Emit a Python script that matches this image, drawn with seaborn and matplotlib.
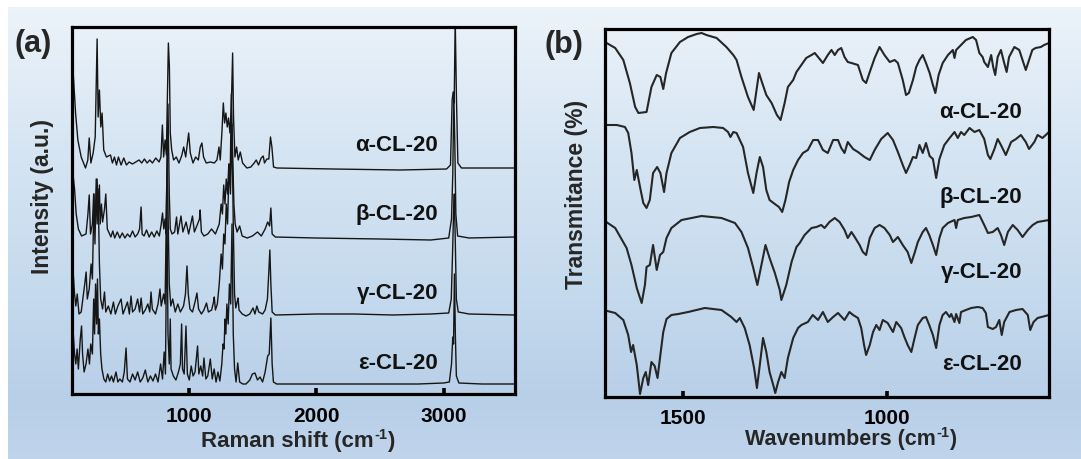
import numpy as np
import pandas as pd
import matplotlib
matplotlib.use("Agg")
import matplotlib.pyplot as plt
import seaborn as sns

sns.set_theme(style="white")
plt.rcParams['font.family'] = ['Liberation Sans', 'DejaVu Sans']
plt.rcParams['font.weight'] = 'bold'

# ---------------- data: Raman spectra (Raman shift cm-1, intensity a.u.) ----------------
RAMAN_ALPHA = [(86,330),(94,322),(113,281),(131,254),(157,237),(191,226),(209,234),(220,256),(233,231),(251,241),(267,257),(282,355),(290,277),(300,304),(311,267),(321,281),(334,244),(355,237),(387,239),(402,231),(418,237),(434,229),(449,237),(470,229),(491,236),(512,229),(533,232),(559,230),(585,232),(611,234),(632,231),(653,235),(674,231),(695,234),(716,231),(742,236),(768,232),(783,237),(794,269),(804,237),(815,254),(825,239),(841,351),(849,327),(856,261),(867,244),(882,234),(903,237),(924,231),(945,238),(961,247),(977,237),(1000,261),(1013,241),(1034,231),(1055,237),(1076,234),(1091,247),(1104,251),(1117,237),(1138,231),(1170,232),(1201,231),(1222,234),(1238,247),(1248,234),(1261,262),(1272,291),(1282,271),(1292,281),(1303,267),(1313,276),(1324,261),(1334,284),(1345,341),(1352,277),(1363,237),(1376,247),(1389,234),(1405,242),(1423,231),(1457,226),(1488,227),(1514,231),(1530,234),(1548,229),(1569,236),(1585,238),(1595,231),(1613,235),(1629,235),(1642,257),(1653,247),(1666,227),(1692,226),(2135,225),(2657,224),(3023,225),(3054,229),(3067,294),(3075,302),(3083,291),(3091,375),(3101,294),(3112,231),(3140,226),(3558,226)]
RAMAN_BETA = [(86,228),(105,205),(118,180),(135,165),(160,158),(195,160),(210,180),(220,199),(230,160),(245,170),(255,200),(262,165),(272,190),(282,215),(290,175),(300,209),(306,170),(316,190),(325,172),(340,185),(350,200),(362,165),(380,160),(390,157),(405,163),(420,156),(440,162),(460,156),(480,161),(500,156),(520,160),(540,157),(560,163),(580,157),(600,160),(615,165),(627,187),(635,160),(650,158),(670,164),(690,157),(710,162),(730,157),(750,163),(770,158),(785,170),(795,181),(805,165),(815,175),(822,160),(838,290),(848,200),(856,165),(870,160),(890,162),(905,177),(915,160),(940,178),(955,162),(980,172),(1000,160),(1030,178),(1045,162),(1070,170),(1085,175),(1090,184),(1100,162),(1120,158),(1150,160),(1180,165),(1210,160),(1240,170),(1255,190),(1265,180),(1275,209),(1285,190),(1295,215),(1305,200),(1315,230),(1325,210),(1335,300),(1345,240),(1355,190),(1365,170),(1380,162),(1400,168),(1420,158),(1460,156),(1500,158),(1540,162),(1570,158),(1600,165),(1620,172),(1635,168),(1645,186),(1655,160),(1680,157),(2000,156),(2500,155),(2900,154),(3040,156),(3062,175),(3072,220),(3080,300),(3088,250),(3096,180),(3110,158),(3200,156),(3558,157)]
RAMAN_GAMMA = [(86,146),(95,120),(105,100),(115,88),(126,100),(140,80),(157,82),(170,95),(185,110),(196,122),(205,95),(220,105),(235,130),(245,115),(258,200),(265,150),(275,215),(282,170),(290,205),(300,130),(310,95),(325,85),(340,102),(350,82),(370,88),(390,80),(410,92),(425,80),(445,88),(470,95),(485,80),(500,85),(520,92),(535,80),(548,98),(560,82),(580,85),(600,95),(615,82),(627,96),(640,80),(660,84),(680,90),(695,82),(705,102),(715,85),(740,80),(760,90),(775,105),(785,88),(804,100),(815,90),(832,240),(840,170),(848,110),(860,88),(875,95),(895,82),(915,90),(935,82),(960,88),(975,100),(987,128),(997,100),(1010,85),(1030,82),(1050,92),(1065,101),(1078,85),(1100,80),(1120,84),(1140,91),(1155,82),(1180,84),(1195,92),(1201,97),(1210,84),(1225,90),(1240,110),(1255,140),(1265,125),(1275,160),(1285,150),(1295,190),(1305,170),(1318,230),(1328,200),(1340,270),(1350,170),(1360,100),(1370,86),(1380,92),(1388,96),(1395,84),(1420,80),(1450,78),(1480,80),(1505,86),(1520,80),(1535,88),(1550,82),(1580,80),(1600,84),(1618,95),(1628,120),(1637,144),(1645,110),(1655,82),(1680,79),(2000,80),(2300,80),(2600,79),(2900,80),(3040,81),(3060,95),(3070,140),(3078,180),(3084,200),(3092,150),(3100,95),(3115,82),(3200,80),(3558,79)]
RAMAN_EPSILON = [(86,78),(95,60),(105,40),(115,30),(125,45),(135,25),(150,55),(160,68),(168,40),(180,22),(195,30),(210,45),(222,30),(232,50),(245,40),(255,95),(262,60),(270,110),(278,70),(285,115),(292,60),(300,75),(310,40),(320,25),(335,15),(350,12),(365,20),(380,13),(395,18),(410,12),(430,22),(445,12),(460,15),(480,12),(495,22),(509,46),(520,15),(540,12),(560,20),(580,14),(600,22),(620,12),(640,16),(660,24),(680,12),(700,18),(720,13),(740,20),(760,12),(780,30),(795,15),(808,42),(818,20),(830,190),(838,60),(848,30),(856,75),(862,25),(880,18),(900,14),(920,22),(935,30),(945,70),(952,25),(965,20),(979,68),(990,20),(1005,14),(1020,28),(1035,18),(1050,22),(1070,48),(1080,20),(1095,28),(1110,18),(1120,36),(1135,15),(1150,18),(1170,35),(1185,15),(1200,25),(1215,12),(1230,22),(1245,13),(1260,30),(1270,50),(1278,45),(1285,75),(1292,60),(1300,90),(1310,70),(1320,110),(1330,90),(1340,170),(1350,60),(1360,25),(1372,12),(1385,31),(1400,12),(1425,10),(1450,10),(1480,14),(1500,20),(1520,21),(1540,14),(1560,17),(1580,12),(1600,22),(1620,38),(1632,40),(1645,76),(1655,30),(1665,12),(1690,10),(2000,10),(2400,10),(2800,10),(3000,11),(3045,12),(3062,30),(3072,57),(3078,50),(3085,120),(3092,60),(3100,18),(3120,11),(3300,10),(3558,10)]

# ---------------- data: IR spectra (wavenumber cm-1, transmittance) ----------------
IR_ALPHA = [(1692,354),(1688,354),(1667,349),(1647,337),(1631,314),(1618,290),(1610,284),(1590,285),(1578,310),(1565,322),(1556,320),(1549,308),(1542,324),(1529,344),(1508,355),(1488,360),(1467,363),(1455,364),(1443,362),(1418,359),(1394,350),(1377,342),(1369,337),(1357,320),(1341,300),(1327,287),(1320,307),(1314,324),(1306,314),(1296,302),(1283,294),(1270,282),(1261,277),(1251,294),(1243,310),(1230,317),(1222,325),(1210,332),(1198,339),(1185,342),(1177,344),(1167,339),(1157,334),(1145,342),(1136,347),(1128,342),(1120,347),(1112,349),(1104,340),(1096,335),(1087,334),(1071,332),(1059,317),(1051,314),(1042,325),(1030,339),(1018,350),(1006,342),(993,335),(981,337),(973,334),(961,317),(953,302),(946,304),(936,317),(928,330),(920,337),(912,342),(904,334),(895,324),(887,312),(881,304),(873,322),(863,334),(850,342),(838,347),(834,339),(830,347),(818,352),(806,357),(789,360),(781,357),(773,344),(765,340),(761,335),(752,330),(744,342),(739,330),(734,322),(728,340),(720,347),(712,334),(706,325),(700,340),(687,350),(675,347),(667,337),(659,327),(651,337),(643,347),(635,349),(622,350),(614,352),(602,354)]
IR_BETA = [(1692,272),(1663,272),(1643,270),(1635,264),(1627,244),(1620,217),(1614,227),(1606,210),(1598,194),(1590,189),(1582,197),(1574,224),(1564,230),(1556,224),(1547,205),(1541,224),(1529,244),(1508,259),(1484,265),(1459,269),(1426,270),(1402,269),(1390,265),(1384,260),(1377,265),(1369,264),(1353,250),(1341,224),(1328,204),(1320,224),(1312,240),(1304,230),(1296,207),(1288,197),(1275,193),(1265,190),(1257,185),(1249,197),(1240,215),(1230,227),(1218,237),(1206,244),(1194,247),(1181,257),(1169,257),(1157,247),(1145,244),(1132,257),(1120,257),(1112,249),(1104,244),(1096,255),(1083,248),(1071,245),(1055,240),(1042,237),(1030,247),(1014,258),(998,264),(985,257),(973,245),(961,232),(953,224),(944,232),(936,240),(928,239),(920,252),(912,244),(904,254),(895,241),(887,238),(879,219),(871,238),(859,252),(846,259),(834,265),(826,259),(818,265),(810,262),(797,269),(785,265),(773,267),(761,258),(752,242),(746,238),(736,248),(728,258),(720,252),(708,242),(695,255),(683,258),(671,262),(659,255),(651,248),(638,255),(630,262),(618,259),(602,265)]
IR_GAMMA = [(1696,177),(1667,169),(1639,149),(1627,132),(1614,109),(1602,94),(1594,112),(1590,130),(1582,132),(1574,152),(1565,127),(1557,142),(1549,145),(1541,159),(1529,169),(1504,177),(1455,181),(1406,179),(1373,174),(1357,165),(1341,149),(1328,129),(1318,112),(1308,132),(1298,152),(1288,139),(1275,124),(1263,107),(1259,97),(1247,112),(1234,135),(1222,150),(1214,154),(1202,162),(1185,169),(1173,170),(1161,172),(1153,169),(1141,175),(1128,179),(1116,175),(1104,167),(1096,159),(1087,165),(1079,160),(1067,152),(1059,145),(1051,142),(1042,159),(1030,169),(1018,172),(1006,169),(993,162),(985,155),(973,160),(961,152),(949,145),(940,134),(932,144),(924,155),(912,165),(904,169),(896,162),(887,152),(879,142),(871,159),(863,169),(850,174),(834,177),(830,169),(826,177),(810,179),(793,180),(773,182),(761,172),(752,164),(740,165),(728,169),(720,162),(712,152),(703,165),(691,172),(679,167),(667,160),(654,167),(642,172),(630,175),(602,177)]
IR_EPSILON = [(1696,87),(1667,84),(1647,77),(1635,62),(1628,45),(1623,52),(1614,32),(1606,3),(1598,19),(1592,25),(1586,12),(1578,35),(1570,31),(1563,19),(1557,39),(1549,65),(1541,78),(1529,82),(1512,83),(1488,85),(1447,89),(1406,87),(1382,80),(1369,75),(1361,79),(1349,69),(1337,52),(1326,29),(1319,9),(1312,32),(1304,59),(1296,45),(1288,25),(1279,12),(1274,4),(1267,15),(1259,25),(1251,19),(1243,39),(1230,59),(1218,69),(1210,72),(1194,75),(1182,82),(1169,77),(1157,85),(1145,75),(1132,80),(1120,84),(1104,77),(1092,85),(1083,82),(1071,79),(1063,69),(1056,52),(1051,42),(1042,52),(1034,65),(1026,72),(1018,67),(1010,77),(998,74),(985,65),(977,75),(965,69),(957,60),(949,52),(940,45),(932,59),(924,72),(912,79),(904,80),(896,72),(887,62),(879,49),(871,72),(863,82),(855,85),(846,80),(842,83),(834,75),(830,83),(822,74),(818,85),(806,87),(793,89),(777,90),(765,89),(757,84),(752,70),(740,68),(732,70),(724,77),(718,62),(712,75),(699,85),(683,87),(667,88),(654,82),(648,67),(640,75),(630,79),(602,82)]

RAMAN_SERIES = [("α-CL-20", RAMAN_ALPHA), ("β-CL-20", RAMAN_BETA), ("γ-CL-20", RAMAN_GAMMA), ("ε-CL-20", RAMAN_EPSILON)]
IR_SERIES = [("α-CL-20", IR_ALPHA), ("β-CL-20", IR_BETA), ("γ-CL-20", IR_GAMMA), ("ε-CL-20", IR_EPSILON)]
RAMAN_TICKS = [1000, 2000, 3000]
IR_TICKS = [1500, 1000]

# ---------------- figure ----------------
W, H = 1081, 459
fig = plt.figure(figsize=(W / 100, H / 100), dpi=100)

# background gradient (decoration)
bg = fig.add_axes([0, 0, 1, 1], zorder=-10)
ys = np.arange(H)
stop_y = [0, 7, 150, 300, 400, 459]
stop_c = np.array([[236, 243, 250], [236, 243, 250], [214, 229, 243], [196, 217, 237], [184, 207, 232], [192, 213, 236]]) / 255.0
col = np.stack([np.interp(ys, stop_y, stop_c[:, k]) for k in range(3)], axis=1)
img = np.repeat(col[:, None, :], W, axis=1)
img[:7, :, :] = 1.0
img[:, :8, :] = 1.0
bg.imshow(img, aspect='auto', interpolation='bilinear')
bg.axis('off')

axA = fig.add_axes([72 / W, 1 - 394 / H, 443 / W, 367 / H])
axB = fig.add_axes([605 / W, 1 - 397 / H, 444 / W, 368 / H])

for ax in (axA, axB):
    ax.set_facecolor('none')

for name, pts in RAMAN_SERIES:
    df = pd.DataFrame(pts, columns=['shift', 'intensity'])
    sns.lineplot(data=df, x='shift', y='intensity', ax=axA, color='#161616', lw=1.0,
                 estimator=None, sort=False)
for name, pts in IR_SERIES:
    df = pd.DataFrame(pts, columns=['wn', 'trans'])
    sns.lineplot(data=df, x='wn', y='trans', ax=axB, color='#262626', lw=1.5,
                 estimator=None, sort=False)

axA.set_xlim(85, 3560)
axA.set_ylim(0, 367)
axB.set_xlim(1692, 602)
axB.set_ylim(0, 368)
axA.set_xticks(RAMAN_TICKS)
axB.set_xticks(IR_TICKS)

for ax in (axA, axB):
    ax.set_xlabel('')
    ax.set_ylabel('')
    ax.set_yticks([])
    for s in ax.spines.values():
        s.set_visible(True)
        s.set_linewidth(2.3)
        s.set_color('black')
    ax.tick_params(axis='x', which='both', direction='in', length=4.5, width=2.6,
                   bottom=True, top=False, labelsize=15, pad=9, colors='black')
    for lab in ax.get_xticklabels():
        lab.set_fontweight('bold')

# series labels
A_LAB_Y = [0.678, 0.488, 0.275, 0.084]
B_LAB_Y = [0.774, 0.543, 0.337, 0.087]
for (name, _), yy in zip(RAMAN_SERIES, A_LAB_Y):
    axA.text(0.826, yy, name, transform=axA.transAxes, ha='right', va='center',
             fontsize=16, fontweight='bold', color='#111')
for (name, _), yy in zip(IR_SERIES, B_LAB_Y):
    axB.text(0.939, yy, name, transform=axB.transAxes, ha='right', va='center',
             fontsize=16, fontweight='bold', color='#111')

# panel letters and axis titles
fig.text(33 / W, 1 - 44 / H, '(a)', ha='center', va='center', fontsize=22, fontweight='bold')
fig.text(564 / W, 1 - 45 / H, '(b)', ha='center', va='center', fontsize=22, fontweight='bold')
fig.text(43 / W, 1 - 196 / H, 'Intensity (a.u.)', rotation=90, ha='center', va='center',
         fontsize=16.5, fontweight='bold')
fig.text(576 / W, 1 - 194 / H, 'Transmitance (%)', rotation=90, ha='center', va='center',
         fontsize=16.5, fontweight='bold')


def xlabel_with_sup(x_right_px, y_px, main, size):
    t1 = fig.text(x_right_px / W, 1 - y_px / H, main + ' (cm', ha='right', va='center',
                  fontsize=size, fontweight='bold')
    s = plt.annotate('-1', xy=(1.0, 0.52), xycoords=t1, ha='left', va='bottom',
                     fontsize=10.5, fontweight='bold', annotation_clip=False)
    plt.annotate(')', xy=(1.0, 0.0), xycoords=(s, t1), ha='left', va='bottom',
                 fontsize=size, fontweight='bold', annotation_clip=False)


xlabel_with_sup(374, 442, 'Raman shift', 16)
xlabel_with_sup(936, 440, 'Wavenumbers', 15.5)

fig.savefig('out.png', dpi=100)
